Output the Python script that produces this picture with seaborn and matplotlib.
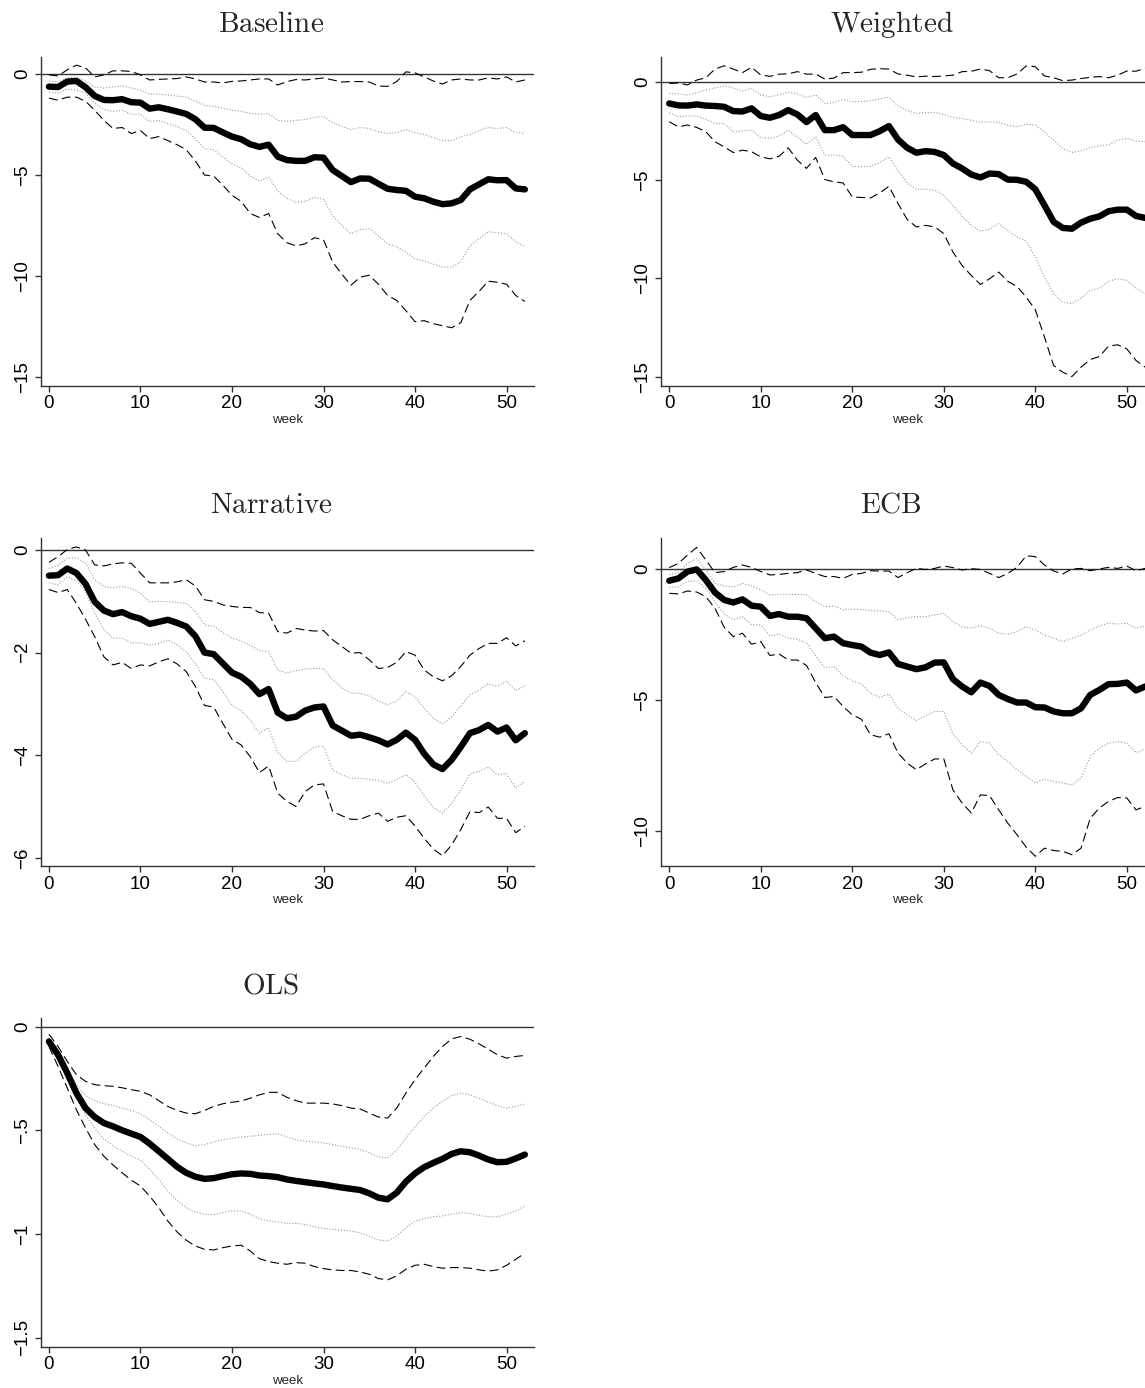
import matplotlib
matplotlib.use("Agg")
import matplotlib.pyplot as plt
import seaborn as sns

WEEKS = list(range(53))

# ---- Baseline ----
baseline_est = [-0.63, -0.65, -0.38, -0.35, -0.66, -1.09, -1.29, -1.30, -1.25, -1.40,
                -1.42, -1.72, -1.65, -1.75, -1.86, -1.98, -2.24, -2.66, -2.67, -2.89,
                -3.10, -3.23, -3.48, -3.61, -3.50, -4.09, -4.26, -4.30, -4.30, -4.12,
                -4.14, -4.75, -5.05, -5.35, -5.17, -5.18, -5.43, -5.68, -5.74, -5.78,
                -6.07, -6.15, -6.32, -6.44, -6.40, -6.24, -5.71, -5.46, -5.21, -5.26,
                -5.25, -5.66, -5.71]
baseline_hi90 = [-0.05, -0.10, 0.20, 0.43, 0.30, -0.15, -0.05, 0.15, 0.15, 0.12,
                 -0.05, -0.30, -0.27, -0.25, -0.23, -0.15, -0.25, -0.40, -0.40, -0.45,
                 -0.37, -0.35, -0.30, -0.25, -0.25, -0.55, -0.38, -0.28, -0.30, -0.25,
                 -0.20, -0.30, -0.40, -0.38, -0.38, -0.40, -0.60, -0.62, -0.38, 0.10,
                 0.05, -0.15, -0.35, -0.50, -0.30, -0.25, -0.30, -0.30, -0.20, -0.25,
                 -0.15, -0.40, -0.30]
baseline_lo90 = [-1.20, -1.30, -1.15, -1.15, -1.35, -1.80, -2.30, -2.70, -2.65, -2.95,
                 -2.80, -3.20, -3.10, -3.30, -3.50, -3.75, -4.30, -5.00, -5.05, -5.50,
                 -6.00, -6.30, -6.90, -7.10, -6.90, -7.90, -8.35, -8.50, -8.40, -8.10,
                 -8.20, -9.30, -9.90, -10.45, -10.05, -9.95, -10.40, -10.95, -11.20, -11.70,
                 -12.25, -12.20, -12.35, -12.45, -12.55, -12.30, -11.20, -10.75, -10.25, -10.30,
                 -10.40, -10.95, -11.25]
baseline_hi68 = [-0.35, -0.40, -0.20, -0.15, -0.35, -0.65, -0.70, -0.65, -0.60, -0.70,
                 -0.80, -1.00, -1.00, -1.05, -1.10, -1.15, -1.35, -1.55, -1.60, -1.70,
                 -1.80, -1.85, -1.95, -2.00, -1.95, -2.30, -2.35, -2.30, -2.25, -2.15,
                 -2.10, -2.40, -2.60, -2.75, -2.65, -2.70, -2.85, -2.95, -2.90, -2.75,
                 -2.90, -3.00, -3.15, -3.30, -3.30, -3.10, -3.00, -2.80, -2.65, -2.70,
                 -2.65, -2.90, -2.95]
baseline_lo68 = [-0.90, -0.95, -0.75, -0.80, -0.95, -1.45, -1.75, -1.85, -1.80, -2.00,
                 -2.00, -2.35, -2.30, -2.45, -2.60, -2.80, -3.20, -3.70, -3.75, -4.10,
                 -4.45, -4.65, -5.05, -5.30, -5.10, -5.80, -6.15, -6.35, -6.30, -6.10,
                 -6.20, -7.00, -7.50, -7.90, -7.70, -7.65, -8.00, -8.40, -8.55, -8.80,
                 -9.15, -9.25, -9.40, -9.55, -9.55, -9.30, -8.50, -8.15, -7.80, -7.85,
                 -7.90, -8.30, -8.55]

# ---- Weighted ----
weighted_est = [-1.09, -1.19, -1.20, -1.14, -1.20, -1.22, -1.26, -1.48, -1.50, -1.34,
                -1.73, -1.82, -1.68, -1.43, -1.65, -2.04, -1.68, -2.45, -2.45, -2.30,
                -2.70, -2.70, -2.70, -2.50, -2.24, -2.93, -3.35, -3.60, -3.52, -3.56,
                -3.72, -4.15, -4.40, -4.71, -4.86, -4.66, -4.69, -4.97, -4.98, -5.08,
                -5.46, -6.28, -7.12, -7.43, -7.47, -7.16, -6.96, -6.84, -6.58, -6.50,
                -6.50, -6.82, -6.92]
weighted_hi90 = [-0.07, -0.05, -0.15, 0.10, 0.22, 0.66, 0.83, 0.66, 0.48, 0.75,
                 0.36, 0.29, 0.40, 0.42, 0.53, 0.40, 0.41, 0.15, 0.20, 0.48,
                 0.48, 0.50, 0.65, 0.68, 0.66, 0.41, 0.35, 0.26, 0.30, 0.28,
                 0.31, 0.35, 0.53, 0.55, 0.66, 0.58, 0.22, 0.22, 0.41, 0.82,
                 0.78, 0.31, 0.22, 0.07, 0.10, 0.18, 0.24, 0.28, 0.22, 0.35,
                 0.56, 0.55, 0.70]
weighted_lo90 = [-2.02, -2.28, -2.19, -2.31, -2.53, -3.04, -3.30, -3.59, -3.47, -3.55,
                 -3.81, -3.91, -3.78, -3.35, -3.98, -4.40, -3.84, -4.97, -5.08, -5.14,
                 -5.85, -5.88, -5.90, -5.65, -5.31, -6.19, -7.00, -7.38, -7.30, -7.38,
                 -7.72, -8.66, -9.34, -9.85, -10.31, -10.02, -9.68, -10.15, -10.41, -10.95,
                 -11.60, -12.99, -14.44, -14.78, -15.00, -14.52, -14.13, -13.98, -13.45, -13.38,
                 -13.59, -14.18, -14.52]
weighted_hi68 = [-0.58, -0.60, -0.66, -0.55, -0.41, -0.30, -0.19, -0.30, -0.46, -0.32,
                 -0.66, -0.75, -0.65, -0.53, -0.60, -0.78, -0.66, -1.09, -1.05, -0.88,
                 -1.00, -1.00, -0.95, -0.85, -0.78, -1.22, -1.45, -1.60, -1.55, -1.55,
                 -1.65, -1.80, -1.85, -1.95, -2.05, -2.02, -2.05, -2.20, -2.28, -2.15,
                 -2.19, -2.55, -2.96, -3.38, -3.59, -3.50, -3.35, -3.25, -3.20, -2.96,
                 -2.87, -3.00, -3.04]
weighted_lo68 = [-1.56, -1.77, -1.72, -1.73, -1.90, -2.10, -2.11, -2.53, -2.48, -2.45,
                 -2.82, -2.87, -2.75, -2.45, -2.80, -3.18, -2.79, -3.72, -3.72, -3.78,
                 -4.29, -4.32, -4.29, -4.10, -3.81, -4.52, -5.14, -5.48, -5.45, -5.51,
                 -5.77, -6.30, -6.84, -7.30, -7.59, -7.50, -7.21, -7.55, -7.89, -8.10,
                 -8.91, -9.93, -10.78, -11.21, -11.29, -11.00, -10.61, -10.50, -10.15, -10.02,
                 -10.10, -10.50, -10.78]

# ---- Narrative ----
narrative_est = [-0.50, -0.49, -0.36, -0.45, -0.66, -1.01, -1.18, -1.25, -1.21, -1.29,
                 -1.34, -1.44, -1.40, -1.36, -1.42, -1.49, -1.68, -2.00, -2.03, -2.21,
                 -2.39, -2.47, -2.61, -2.81, -2.71, -3.17, -3.28, -3.25, -3.13, -3.07,
                 -3.05, -3.42, -3.52, -3.62, -3.60, -3.65, -3.71, -3.79, -3.70, -3.56,
                 -3.70, -3.97, -4.18, -4.27, -4.09, -3.84, -3.57, -3.51, -3.41, -3.54,
                 -3.46, -3.71, -3.57]
narrative_hi90 = [-0.24, -0.13, 0.01, 0.06, 0.00, -0.29, -0.31, -0.27, -0.25, -0.26,
                  -0.45, -0.64, -0.64, -0.64, -0.62, -0.58, -0.70, -0.97, -1.00, -1.07,
                  -1.10, -1.12, -1.12, -1.22, -1.23, -1.59, -1.62, -1.53, -1.56, -1.58,
                  -1.57, -1.75, -1.88, -2.01, -2.00, -2.14, -2.31, -2.29, -2.19, -1.98,
                  -2.05, -2.34, -2.47, -2.55, -2.45, -2.27, -2.05, -1.92, -1.82, -1.82,
                  -1.71, -1.87, -1.77]
narrative_lo90 = [-0.77, -0.83, -0.77, -1.04, -1.35, -1.69, -2.08, -2.24, -2.19, -2.31,
                  -2.24, -2.26, -2.18, -2.12, -2.22, -2.37, -2.66, -3.03, -3.06, -3.38,
                  -3.69, -3.80, -4.03, -4.34, -4.21, -4.74, -4.90, -5.00, -4.71, -4.58,
                  -4.56, -5.10, -5.18, -5.25, -5.25, -5.18, -5.13, -5.29, -5.21, -5.18,
                  -5.38, -5.62, -5.83, -5.96, -5.75, -5.45, -5.10, -5.12, -5.01, -5.23,
                  -5.23, -5.51, -5.39]
narrative_hi68 = [-0.36, -0.30, -0.16, -0.15, -0.26, -0.58, -0.71, -0.74, -0.71, -0.75,
                  -0.84, -1.01, -1.00, -1.01, -1.02, -1.04, -1.20, -1.46, -1.49, -1.61,
                  -1.72, -1.77, -1.86, -1.96, -1.98, -2.34, -2.40, -2.35, -2.32, -2.31,
                  -2.31, -2.53, -2.69, -2.79, -2.79, -2.84, -2.94, -3.02, -2.94, -2.76,
                  -2.86, -3.08, -3.28, -3.39, -3.25, -3.04, -2.82, -2.73, -2.61, -2.66,
                  -2.56, -2.74, -2.65]
narrative_lo68 = [-0.64, -0.68, -0.52, -0.60, -0.81, -1.23, -1.55, -1.72, -1.72, -1.81,
                  -1.81, -1.86, -1.82, -1.75, -1.85, -1.98, -2.21, -2.50, -2.53, -2.76,
                  -3.02, -3.13, -3.31, -3.57, -3.47, -3.95, -4.12, -4.12, -3.96, -3.84,
                  -3.82, -4.29, -4.38, -4.45, -4.45, -4.47, -4.49, -4.55, -4.47, -4.38,
                  -4.53, -4.79, -5.02, -5.13, -4.94, -4.68, -4.36, -4.32, -4.23, -4.38,
                  -4.36, -4.64, -4.51]

# ---- ECB ----
ecb_est = [-0.46, -0.37, -0.11, -0.03, -0.43, -0.91, -1.19, -1.29, -1.17, -1.41,
           -1.45, -1.80, -1.73, -1.83, -1.83, -1.89, -2.27, -2.65, -2.59, -2.84,
           -2.91, -2.97, -3.20, -3.29, -3.19, -3.63, -3.73, -3.83, -3.76, -3.58,
           -3.57, -4.21, -4.49, -4.71, -4.34, -4.47, -4.81, -4.97, -5.10, -5.10,
           -5.28, -5.29, -5.44, -5.51, -5.51, -5.32, -4.81, -4.62, -4.40, -4.39,
           -4.34, -4.64, -4.49]
ecb_hi90 = [0.04, 0.20, 0.52, 0.81, 0.33, -0.15, -0.11, 0.05, 0.14, 0.05,
            -0.11, -0.24, -0.22, -0.18, -0.15, -0.05, -0.18, -0.30, -0.30, -0.37,
            -0.22, -0.18, -0.08, -0.09, -0.09, -0.34, -0.15, 0.01, -0.03, 0.01,
            0.10, 0.04, -0.05, 0.00, -0.03, -0.18, -0.34, -0.18, 0.05, 0.49,
            0.46, 0.14, -0.09, -0.20, -0.01, 0.01, -0.08, -0.01, 0.05, 0.01,
            0.10, -0.08, 0.01]
ecb_lo90 = [-0.94, -0.96, -0.85, -0.89, -1.07, -1.51, -2.23, -2.59, -2.46, -2.88,
            -2.78, -3.31, -3.25, -3.48, -3.48, -3.69, -4.34, -4.91, -4.87, -5.25,
            -5.57, -5.74, -6.33, -6.42, -6.29, -7.03, -7.41, -7.66, -7.44, -7.25,
            -7.25, -8.43, -8.93, -9.31, -8.62, -8.65, -9.19, -9.70, -10.14, -10.61,
            -10.96, -10.65, -10.74, -10.77, -10.90, -10.65, -9.51, -9.12, -8.87, -8.72,
            -8.74, -9.19, -9.06]
ecb_hi68 = [-0.22, -0.16, 0.20, 0.39, -0.03, -0.56, -0.66, -0.70, -0.56, -0.66,
            -0.81, -1.00, -0.98, -0.98, -0.98, -1.00, -1.26, -1.45, -1.42, -1.57,
            -1.54, -1.55, -1.60, -1.61, -1.64, -1.95, -1.87, -1.83, -1.83, -1.76,
            -1.70, -2.02, -2.21, -2.27, -2.17, -2.27, -2.46, -2.50, -2.40, -2.21,
            -2.34, -2.53, -2.65, -2.78, -2.65, -2.53, -2.34, -2.18, -2.08, -2.11,
            -2.08, -2.27, -2.18]
ecb_lo68 = [-0.71, -0.69, -0.49, -0.46, -0.75, -1.26, -1.73, -1.95, -1.83, -2.14,
            -2.14, -2.56, -2.49, -2.65, -2.69, -2.82, -3.32, -3.79, -3.73, -4.09,
            -4.28, -4.39, -4.75, -4.90, -4.78, -5.32, -5.57, -5.79, -5.61, -5.44,
            -5.44, -6.29, -6.71, -7.03, -6.59, -6.65, -7.09, -7.35, -7.66, -7.92,
            -8.17, -8.02, -8.11, -8.17, -8.24, -7.98, -7.16, -6.84, -6.65, -6.59,
            -6.65, -7.01, -6.88]

# ---- OLS ----
ols_est = [-0.072, -0.136, -0.224, -0.320, -0.393, -0.436, -0.465, -0.481, -0.500, -0.516,
           -0.532, -0.564, -0.601, -0.638, -0.676, -0.705, -0.724, -0.734, -0.731, -0.721,
           -0.712, -0.708, -0.710, -0.718, -0.721, -0.726, -0.737, -0.744, -0.750, -0.756,
           -0.761, -0.769, -0.776, -0.782, -0.788, -0.804, -0.825, -0.833, -0.801, -0.748,
           -0.708, -0.678, -0.657, -0.638, -0.614, -0.601, -0.606, -0.622, -0.641, -0.654,
           -0.652, -0.636, -0.617]
ols_hi90 = [-0.037, -0.096, -0.168, -0.232, -0.264, -0.280, -0.285, -0.288, -0.295, -0.304,
            -0.312, -0.329, -0.357, -0.385, -0.404, -0.417, -0.420, -0.404, -0.385, -0.372,
            -0.365, -0.359, -0.345, -0.329, -0.317, -0.317, -0.341, -0.357, -0.369, -0.369,
            -0.369, -0.373, -0.381, -0.393, -0.397, -0.417, -0.436, -0.441, -0.393, -0.321,
            -0.256, -0.200, -0.144, -0.096, -0.059, -0.048, -0.061, -0.083, -0.109, -0.136,
            -0.152, -0.144, -0.139]
ols_lo90 = [-0.096, -0.192, -0.296, -0.401, -0.489, -0.569, -0.625, -0.667, -0.705, -0.740,
            -0.769, -0.817, -0.873, -0.938, -0.990, -1.030, -1.058, -1.074, -1.077, -1.066,
            -1.058, -1.054, -1.082, -1.119, -1.133, -1.141, -1.146, -1.138, -1.141, -1.157,
            -1.167, -1.173, -1.176, -1.176, -1.183, -1.194, -1.215, -1.221, -1.202, -1.170,
            -1.151, -1.146, -1.157, -1.165, -1.162, -1.162, -1.165, -1.173, -1.179, -1.173,
            -1.151, -1.122, -1.093]
ols_hi68 = [-0.056, -0.120, -0.200, -0.280, -0.333, -0.357, -0.372, -0.380, -0.393, -0.405,
            -0.420, -0.449, -0.481, -0.513, -0.542, -0.561, -0.574, -0.569, -0.556, -0.545,
            -0.538, -0.532, -0.529, -0.524, -0.519, -0.516, -0.532, -0.545, -0.553, -0.556,
            -0.561, -0.569, -0.577, -0.585, -0.593, -0.609, -0.628, -0.633, -0.596, -0.537,
            -0.484, -0.433, -0.393, -0.361, -0.333, -0.321, -0.329, -0.345, -0.364, -0.381,
            -0.393, -0.385, -0.373]
ols_lo68 = [-0.080, -0.160, -0.256, -0.349, -0.425, -0.489, -0.542, -0.574, -0.601, -0.625,
            -0.644, -0.689, -0.737, -0.793, -0.837, -0.873, -0.894, -0.905, -0.907, -0.897,
            -0.888, -0.889, -0.905, -0.926, -0.938, -0.942, -0.949, -0.949, -0.954, -0.965,
            -0.973, -0.978, -0.981, -0.986, -0.994, -1.010, -1.029, -1.034, -1.010, -0.970,
            -0.938, -0.926, -0.917, -0.913, -0.905, -0.897, -0.901, -0.910, -0.917, -0.917,
            -0.905, -0.889, -0.865]

XTICKS = [0, 10, 20, 30, 40, 50]

# title, series, y ticks, y tick labels, y limits
PANELS = [
    ("Baseline", (baseline_est, baseline_hi90, baseline_lo90, baseline_hi68, baseline_lo68),
     [0, -5, -10, -15], ["0", "\u22125", "\u221210", "\u221215"], (-15.41, 0.82)),
    ("Weighted", (weighted_est, weighted_hi90, weighted_lo90, weighted_hi68, weighted_lo68),
     [0, -5, -10, -15], ["0", "\u22125", "\u221210", "\u221215"], (-15.46, 1.26)),
    ("Narrative", (narrative_est, narrative_hi90, narrative_lo90, narrative_hi68, narrative_lo68),
     [0, -2, -4, -6], ["0", "\u22122", "\u22124", "\u22126"], (-6.16, 0.24)),
    ("ECB", (ecb_est, ecb_hi90, ecb_lo90, ecb_hi68, ecb_lo68),
     [0, -5, -10], ["0", "\u22125", "\u221210"], (-11.33, 1.18)),
    ("OLS", (ols_est, ols_hi90, ols_lo90, ols_hi68, ols_lo68),
     [0, -0.5, -1, -1.5], ["0", "\u2212.5", "\u22121", "\u22121.5"], (-1.543, 0.04)),
]

sns.set_style("ticks")
plt.rcParams["font.family"] = ["Liberation Sans", "DejaVu Sans"]
plt.rcParams["mathtext.fontset"] = "cm"

W, H = 1145, 1388
fig = plt.figure(figsize=(W / 100, H / 100), dpi=100)

AX_W, AX_H = 493.3, 328.3
LEFTS = [40.7, 661.0]
TOPS = [57.3, 537.7, 1018.3]
SPINE = "#333333"

for i, (title, series, yticks, ylabels, ylim) in enumerate(PANELS):
    row, col = divmod(i, 2)
    left, top = LEFTS[col], TOPS[row]
    ax = fig.add_axes([left / W, 1 - (top + AX_H) / H, AX_W / W, AX_H / H])

    est, hi90, lo90, hi68, lo68 = series
    ax.axhline(0, color=SPINE, lw=1.0, zorder=1)
    for band in (hi68, lo68):
        sns.lineplot(x=WEEKS, y=band, ax=ax, color="#9a9a9a", linewidth=0.8,
                     linestyle=(0, (1, 1.6)), zorder=2)
    for band in (hi90, lo90):
        sns.lineplot(x=WEEKS, y=band, ax=ax, color="black", linewidth=0.8,
                     linestyle=(0, (8, 4)), zorder=3)
    sns.lineplot(x=WEEKS, y=est, ax=ax, color="black", linewidth=4.6,
                 solid_capstyle="round", solid_joinstyle="round", zorder=4)

    ax.set_xlim(-0.9, 53.0)
    ax.set_ylim(*ylim)
    ax.set_xticks(XTICKS)
    ax.set_xticklabels([str(t) for t in XTICKS])
    ax.set_yticks(yticks)
    ax.set_yticklabels(ylabels, rotation=90, va="center")

    sns.despine(ax=ax)
    for side in ("left", "bottom"):
        ax.spines[side].set_color(SPINE)
        ax.spines[side].set_linewidth(1.0)
    ax.tick_params(direction="out", length=4, width=1.0, color=SPINE,
                   labelsize=13.5, pad=3, labelcolor="black")

    ax.set_xlabel("week", fontsize=9.5, labelpad=1)
    ax.set_ylabel("")
    ax.set_title(r"$\mathrm{" + title + "}$", fontsize=21, x=0.467, pad=18)

fig.savefig("out.png", dpi=100)
